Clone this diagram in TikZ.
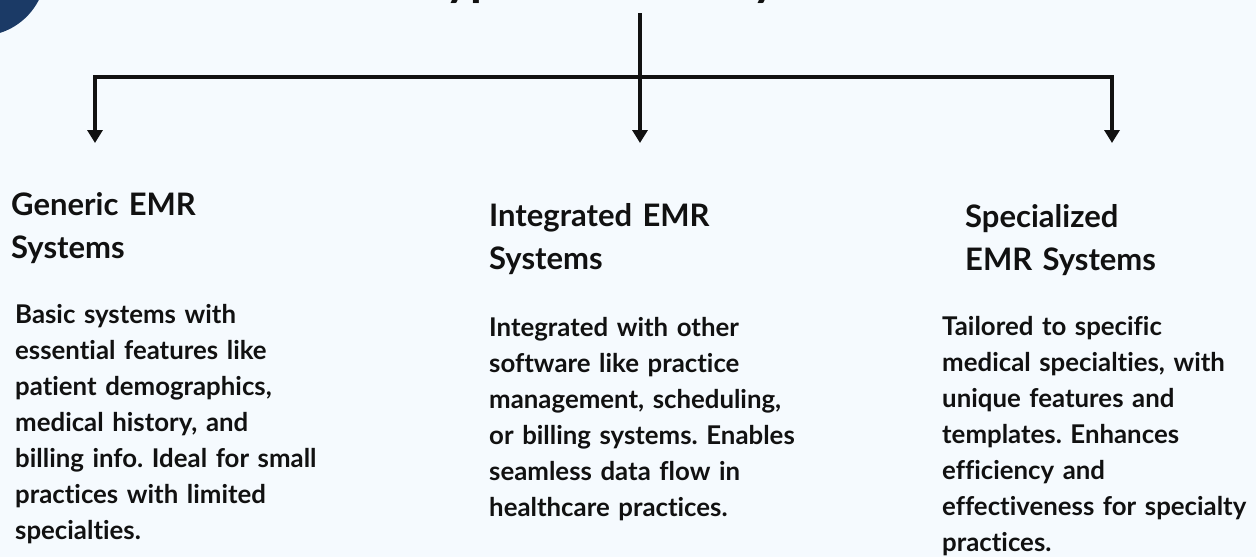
\documentclass[tikz,border=0pt]{standalone}
\usepackage{fontspec}
\setmainfont{Lato}[Ligatures=NoCommon]
\usetikzlibrary{arrows.meta}
\definecolor{pagebg}{HTML}{F5FAFE}
\definecolor{navy}{HTML}{1B3A66}
\definecolor{ink}{HTML}{111111}
\frenchspacing
\tikzset{
  title/.style={anchor=base, inner sep=0pt, text=ink, font=\fontsize{48}{58}\selectfont\bfseries},
  heading/.style={anchor=base west, text width=320pt, align=left, inner sep=0pt, text=ink, font=\fontsize{31}{43}\selectfont\bfseries},
  blurb/.style={anchor=base west, text width=320pt, align=left, inner sep=0pt, text=ink, font=\fontsize{25.8}{36}\selectfont\bfseries},
  trunk/.style={line width=3.5pt, ink},
  branch/.style={trunk, -{Triangle[width=15pt,length=13pt]}}
}
\begin{document}
\begin{tikzpicture}[x=1pt,y=-1pt]
  \useasboundingbox (0,0) rectangle (1256,557);
  \fill [pagebg] (0,0) rectangle (1256,557);
  % cropped corner badge and title
  \begin{scope}
    \clip (0,0) rectangle (1256,557);
    \fill [navy] (-20,-30) circle (66pt);
    \node [title] (title) at (662,-5) {Types of EMR Systems};
  \end{scope}
  % tree
  \coordinate (stem) at (640,13);
  \coordinate (hub) at (640,77);
  \coordinate (ltip) at (95,143);
  \coordinate (mtip) at (640,143);
  \coordinate (rtip) at (1112,143);
  \draw [branch] (stem) -- (mtip);
  \draw [branch] (hub) -| (ltip);
  \draw [branch] (hub) -| (rtip);
  % columns
  \node [heading] (generic) at (11,215) {Generic EMR\\Systems};
  \node [blurb] (genericText) at (15,323) {Basic systems with\\essential features like\\patient demographics,\\medical history, and\\billing info. Ideal for small\\practices with limited\\specialties.};
  \node [heading] (integrated) at (489,226) {Integrated EMR\\Systems};
  \node [blurb] (integratedText) at (489,336) {Integrated with other\\software like practice\\management, scheduling,\\or billing systems. Enables\\seamless data flow in\\healthcare practices.};
  \node [heading] (specialized) at (965,227) {Specialized\\EMR Systems};
  \node [blurb] (specializedText) at (942,335) {Tailored to specific\\medical specialties, with\\unique features and\\templates. Enhances\\efficiency and\\effectiveness for specialty\\practices.};
\end{tikzpicture}
\end{document}
